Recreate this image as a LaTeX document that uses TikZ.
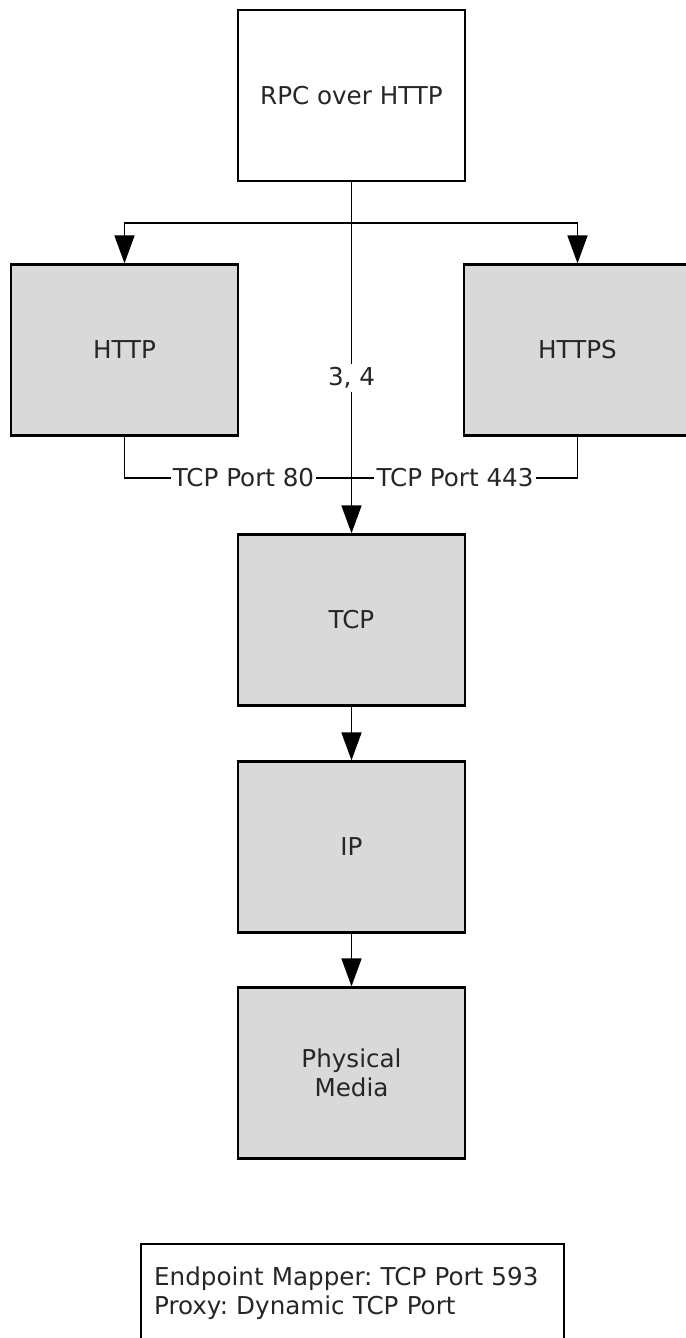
\documentclass[tikz,border=0pt]{standalone}
\usepackage{fontspec}
\setmainfont{DejaVu Sans}
\usetikzlibrary{arrows.meta}
\usepackage{tikz}
\usetikzlibrary{positioning}
\frenchspacing

\begin{document}
\begin{tikzpicture}[
    layer/.style={rectangle, draw=black, fill=black!15, line width=1.3pt,
                  minimum width=4.54cm, minimum height=3.42cm, align=center,
                  font=\fontsize{14}{16.4}\selectfont, text=black!85},
    toplayer/.style={layer, fill=white},
    lbl/.style={font=\fontsize{14}{16.4}\selectfont, text=black!85, fill=white,
                inner xsep=1pt, inner ysep=2pt},
    note/.style={rectangle, draw=black, line width=1.3pt, anchor=north west,
                 minimum width=8.46cm, minimum height=1.96cm, inner xsep=0.26cm,
                 inner ysep=0pt, text width=7.94cm, align=left,
                 font=\fontsize{14}{16.4}\selectfont, text=black!85},
    arr/.style={line width=1pt, -{Triangle[length=0.56cm, width=0.4cm]}},
    ln/.style={line width=1pt}
  ]
  \useasboundingbox (0,0) rectangle (13.7,-26.76);
  % -- stack --
  \node[toplayer] (rpc) at (7.03,-1.91) {RPC over HTTP};
  \node[layer] (http) at (2.49,-7.0) {HTTP};
  \node[layer] (https) at (11.55,-7.0) {HTTPS};
  \node[layer] (tcp) at (7.03,-12.4) {TCP};
  \node[layer] (ip) at (7.03,-16.94) {IP};
  \node[layer] (phys) at (7.03,-21.46) {Physical\\Media};
  % -- branches --
  \coordinate (br) at (7.03,-4.46);
  \draw[ln] (rpc.south) -- (br);
  \draw[arr] (br) -| (http.north);
  \draw[arr] (br) -| (https.north);
  \draw[arr] (br) -- node[lbl, pos=0.5] (rng) {3, 4} (tcp.north);
  % -- ports --
  \node[lbl, inner ysep=0pt] (p80) at (4.87,-9.56) {TCP Port 80};
  \node[lbl, inner ysep=0pt] (p443) at (9.1,-9.56) {TCP Port 443};
  \draw[ln] (http.south) |- (p80.west);
  \draw[ln] (p80.east) -- (p443.west);
  \draw[ln] (p443.east) -| (https.south);
  \draw[arr] (tcp.south) -- (ip.north);
  \draw[arr] (ip.south) -- (phys.north);
  % -- endpoint note --
  \node[note] (epm) at (2.8,-24.86)
    {Endpoint Mapper: TCP Port 593\\Proxy: Dynamic TCP Port};
\end{tikzpicture}
\end{document}
